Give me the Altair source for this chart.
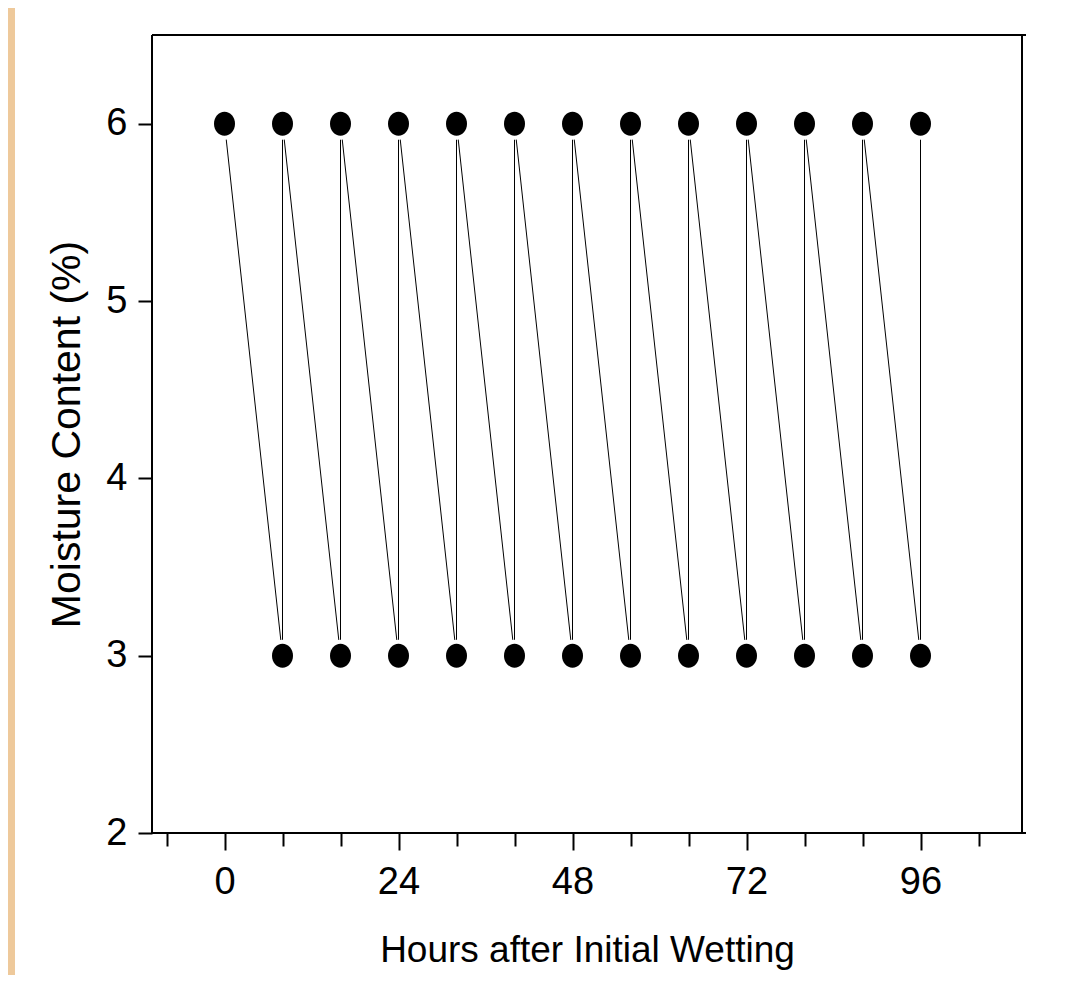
import altair as alt
import pandas as pd

# Data
hours = [0, 8, 8, 16, 16, 24, 24, 32, 32, 40, 40, 48, 48, 56, 56, 64, 64, 72, 72, 80, 80, 88, 88, 96, 96]
moisture = [6, 3, 6, 3, 6, 3, 6, 3, 6, 3, 6, 3, 6, 3, 6, 3, 6, 3, 6, 3, 6, 3, 6, 3, 6]
step = list(range(len(hours)))

x_tick_values = [-8, 0, 8, 16, 24, 32, 40, 48, 56, 64, 72, 80, 88, 96, 104]
y_tick_values = [2, 3, 4, 5, 6]

df = pd.DataFrame({"hours": hours, "moisture": moisture, "step": step})

W, H = 870, 798
FONT = "Liberation Sans"
TAN = "#EEC99B"
ELLIPSE = "M -0.875 0 A 0.875 1 0 1 0 0.875 0 A 0.875 1 0 1 0 -0.875 0 Z"

xscale = alt.Scale(domain=[-10, 110], nice=False, zero=False)
yscale = alt.Scale(domain=[2, 6.5], nice=False, zero=False)

xaxis = alt.Axis(
    values=x_tick_values, grid=False, domain=False, zindex=2,
    title="Hours after Initial Wetting",
    tickColor="black", tickWidth=2,
    tickSize={"condition": {"test": "datum.value % 24 === 0", "value": 17}, "value": 13},
    labelExpr="datum.value % 24 === 0 ? datum.label : ''",
    labelFont=FONT, labelFontSize=38, labelColor="black", labelPadding=13,
    labelOverlap=False, labelFlush=False, labelBound=False,
    titleFont=FONT, titleFontSize=37, titleFontWeight="normal", titleColor="black",
    titleX=435, titleY=128, titleBaseline="alphabetic", titleAlign="center", titleAnchor="middle",
)
yaxis = alt.Axis(
    values=y_tick_values, grid=False, domain=False, zindex=2,
    title="Moisture Content (%)",
    tickColor="black", tickWidth=2, tickSize=14,
    labelFont=FONT, labelFontSize=38, labelColor="black", labelPadding=11,
    labelOverlap=False, labelFlush=False, labelBound=False,
    titleFont=FONT, titleFontSize=41, titleFontWeight="normal", titleColor="black",
    titleX=-85, titleY=399, titleAngle=270, titleBaseline="middle", titleAlign="center", titleAnchor="middle",
)

X = alt.X("hours:Q", scale=xscale, axis=xaxis)
Y = alt.Y("moisture:Q", scale=yscale, axis=yaxis)

base = alt.Chart(df)

white_bg = alt.Chart(pd.DataFrame({"a": [0]})).mark_rect(color="white").encode(
    x=alt.value(-137), x2=alt.value(925), y=alt.value(-27), y2=alt.value(945)
)

line = base.mark_line(color="black", strokeWidth=1).encode(x=X, y=Y, order="step:Q")
halo = base.mark_point(shape=ELLIPSE, filled=True, color="white", opacity=1, size=1024).encode(x=X, y=Y)
dots = base.mark_point(shape=ELLIPSE, filled=True, color="black", opacity=1, size=576).encode(x=X, y=Y)

one = pd.DataFrame({"a": [0]})
top_rule = alt.Chart(one).mark_rule(color="black", strokeWidth=2).encode(
    x=alt.value(0), x2=alt.value(874), y=alt.value(0))
right_rule = alt.Chart(one).mark_rule(color="black", strokeWidth=2).encode(
    x=alt.value(W), y=alt.value(0), y2=alt.value(H))
left_rule = alt.Chart(one).mark_rule(color="black", strokeWidth=2).encode(
    x=alt.value(0), y=alt.value(0), y2=alt.value(H))
bottom_rule = alt.Chart(one).mark_rule(color="black", strokeWidth=2).encode(
    x=alt.value(0), x2=alt.value(874), y=alt.value(H))

chart = alt.layer(
    white_bg, line, halo, dots, top_rule, right_rule, left_rule, bottom_rule
).properties(
    width=W, height=H,
    autosize=alt.AutoSizeParams(type="none"),
    padding={"left": 144, "top": 27, "right": 51, "bottom": 142},
    background=TAN,
).configure_view(strokeWidth=0)

chart.save("out.html", embed_options={"renderer": "svg", "actions": False})
